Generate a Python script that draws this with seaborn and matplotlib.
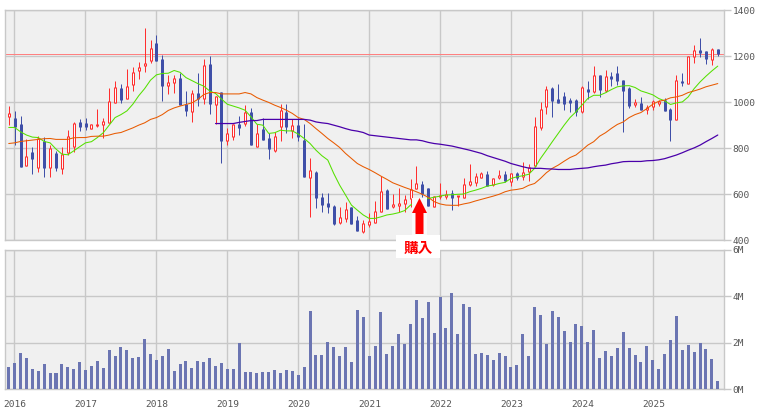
import matplotlib
matplotlib.use("Agg")
import matplotlib.pyplot as plt
import numpy as np
import pandas as pd
import seaborn as sns
from matplotlib.patches import Rectangle, Polygon

# monthly candles, Dec 2015 - Dec 2025
opens = [936,933,904,723,783,712,829,714,778,707,780,806,913,909,884,900,899,910,997,1061,1014,1074,1136,1158,1180,1257,1187,1071,1084,1104,994,958,1042,1012,1165,988,
         1045,832,849,904,904,957,803,885,842,787,893,958,875,900,835,672,697,586,559,548,472,493,542,487,435,465,475,523,617,542,549,557,580,622,642,625,545,586,588,603,588,581,639,649,
         672,687,639,671,687,654,691,675,697,722,886,977,1061,1013,1025,1009,1009,957,1059,1043,1117,1048,1113,1126,1096,1061,988,996,964,977,994,1009,970,922,1091,1081,1197,1226,1222,1184,1230]
closes = [951,893,719,765,752,843,714,799,714,774,852,909,891,891,903,904,920,1003,1064,1009,1072,1133,1151,1172,1238,1180,1070,1090,1106,986,962,1042,1013,1164,991,1025,
          832,864,904,887,957,813,864,835,794,852,965,893,900,849,675,704,584,552,542,468,499,533,471,441,472,483,526,613,535,555,559,577,623,646,600,548,591,596,600,584,591,642,655,678,
          690,636,668,681,657,691,671,694,719,896,972,1059,1004,997,991,997,957,1064,1043,1120,1052,1112,1100,1091,1049,983,999,965,977,1003,1003,962,922,1096,1088,1199,1226,1214,1187,1230,1209]
highs = [983,961,939,838,804,852,848,813,787,804,878,913,926,930,903,970,930,1061,1091,1078,1146,1152,1174,1322,1270,1291,1204,1117,1117,1125,1048,1052,1125,1190,1200,1029,
         1045,886,904,939,986,974,907,929,864,871,991,991,925,929,907,759,700,603,603,552,542,565,542,506,487,516,570,678,622,600,626,596,665,722,657,625,591,646,617,617,591,668,733,690,
         697,700,672,704,700,691,696,738,730,935,1000,1070,1064,1078,1043,1020,1013,1070,1091,1157,1120,1139,1132,1157,1096,1064,1016,1022,987,1009,1009,1020,974,1117,1126,1199,1248,1278,1222,1235,1230]
lows = [901,813,719,723,687,697,675,675,701,688,770,783,874,878,884,891,843,910,997,996,1014,1048,1100,1132,1171,1180,1004,1035,1041,986,939,913,983,991,948,907,
        736,813,835,857,896,813,803,835,752,784,832,864,842,832,675,501,541,523,516,465,470,480,471,441,432,458,475,523,535,538,523,520,545,622,588,548,545,577,577,530,549,581,635,635,
        668,635,635,664,654,636,661,661,657,722,880,948,935,997,965,957,939,954,1013,1039,1023,1043,1070,1074,870,974,977,965,948,964,983,962,830,922,1070,1081,1170,1197,1165,1161,1201]

ma_short = [890,890,871,857,848,846,829,823,796,774,771,788,806,823,828,846,867,900,933,946,962,991,1028,1059,1096,1119,1125,1126,1138,1130,1107,1094,1081,1070,1049,1038,
            1014,991,983,975,965,936,904,900,864,867,878,875,875,861,842,820,791,767,748,690,639,596,552,530,509,494,494,501,509,513,519,528,552,567,577,581,586,591,596,597,599,600,610,617,
            625,635,639,646,651,668,675,680,686,712,755,791,828,864,900,933,958,987,1016,1030,1030,1041,1055,1067,1071,1072,1064,1049,1041,1032,1016,1006,990,997,1001,1023,1059,1088,1113,1136,1157]
ma_mid = [820,823,829,832,835,838,841,842,838,838,838,845,846,846,851,852,852,857,864,868,878,888,900,910,925,933,946,964,975,983,990,997,1012,1033,1042,1042,
          1036,1036,1036,1036,1042,1036,1020,1009,999,987,977,965,951,933,925,907,885,864,842,823,803,777,755,733,719,707,693,678,664,649,639,629,620,610,599,586,567,557,552,551,551,557,562,570,
          577,584,591,599,610,617,620,625,638,646,668,693,712,726,743,759,770,791,813,828,852,867,886,903,914,933,946,955,972,991,1004,1009,1019,1023,1030,1042,1049,1057,1067,1074,1081]
ma_long = [907,907,907,907,912,916,920,920,925,925,925,925,925,925,925,925,922,914,910,907,900,893,885,878,874,868,857,854,851,848,845,842,839,836,836,832,825,820,817,813,809,803,797,791,784,
           777,767,759,751,743,733,726,719,713,712,712,710,709,707,707,707,710,712,714,719,723,726,732,736,741,742,742,742,745,746,749,754,762,770,780,791,801,813,828,842,857]

volume = [0.96,1.13,1.56,1.34,0.87,0.79,1.09,0.70,0.70,1.09,0.96,0.87,1.17,0.83,1.00,1.21,0.91,1.69,1.43,1.81,1.69,1.34,1.39,2.16,1.51,1.26,1.43,1.73,0.79,1.09,1.21,0.91,1.21,1.17,1.34,1.00,
          1.13,0.87,0.87,1.99,0.74,0.74,0.70,0.74,0.74,0.83,0.70,0.83,0.79,0.61,0.96,3.36,1.47,1.47,2.03,1.81,1.43,1.81,1.17,3.40,3.10,1.43,1.86,3.31,1.51,1.86,2.37,1.94,2.80,3.83,3.06,3.74,
          2.41,3.96,2.63,4.13,2.37,3.66,3.53,1.51,1.56,1.47,1.26,1.56,1.43,0.96,1.04,2.37,1.43,3.53,3.19,1.94,3.36,3.10,2.50,2.03,2.80,2.71,2.03,2.54,1.34,1.64,1.43,1.77,2.46,1.77,1.47,1.17,
          1.86,1.26,0.87,1.51,2.11,3.14,1.69,1.90,1.60,1.99,1.73,1.30,0.36]

years = ["2016","2017","2018","2019","2020","2021","2022","2023","2024","2025"]
price_ticks = [400,600,800,1000,1200,1400]
volume_ticks = [0,2,4,6]
resistance = 1211

RED = "#ff2f2f"
BLUE = "#3f4fa8"
GRID = "#c8c8c8"
TXT = "#555555"

sns.set_style("white")
plt.rcParams["font.family"] = ["DejaVu Sans Mono"]

W, H = 758, 408
fig = plt.figure(figsize=(W/100, H/100), dpi=100, facecolor="white")
def box(l, t, r, b):
    return [l/W, 1-b/H, (r-l)/W, (b-t)/H]
ax = fig.add_axes(box(5.3, 10.3, 723.5, 240))
axv = fig.add_axes(box(5.3, 249.5, 723.5, 389.3))

n = len(opens)
idx = np.arange(n)
xlim = (-0.58, 120.97)
year_pos = [0.95 + 12.017*k for k in range(len(years))]

PT = 0.72           # one pixel in points
UNIT = 1/0.23       # one pixel in price units

# candles: wick, then a 3 px body; rising months get a hollow centre
o, c = np.array(opens, float), np.array(closes, float)
up = c >= o
top, bot = np.maximum(o, c), np.minimum(o, c)
flat = top - bot < 2*UNIT
top = np.where(flat, (top+bot)/2 + UNIT, top)
bot = np.where(flat, top - 2*UNIT, bot)
colours = np.where(up, RED, BLUE)
ax.vlines(idx, lows, highs, colors=colours, lw=PT, zorder=3)
ax.vlines(idx, bot, top, colors=colours, lw=3*PT, zorder=4)
ax.vlines(idx[up], (bot+UNIT)[up], (top-UNIT)[up], colors="#fbfbfb", lw=PT, zorder=4.5)

ax.axhline(resistance, color="#ff8080", lw=PT, zorder=2)
sns.lineplot(x=idx[:len(ma_short)], y=ma_short, ax=ax, color="#55e000", lw=0.75, zorder=5, errorbar=None)
sns.lineplot(x=idx[:len(ma_mid)], y=ma_mid, ax=ax, color="#e85a00", lw=0.75, zorder=5, errorbar=None)
sns.lineplot(x=idx[35:35+len(ma_long)], y=ma_long, ax=ax, color="#4a00aa", lw=0.9, zorder=5, errorbar=None)

dfv = pd.DataFrame({"i": idx, "v": volume})
sns.barplot(data=dfv, x="i", y="v", ax=axv, native_scale=True, color="#6b75b2", saturation=1,
            width=0.51, zorder=3, edgecolor="none", linewidth=0, antialiased=False)

for a, ymin, ymax, ticks, labels in [
    (ax, 400, 1400, price_ticks, [str(t) for t in price_ticks]),
    (axv, 0, 6, volume_ticks, [f"{t}M" for t in volume_ticks]),
]:
    a.set_xlim(*xlim)
    a.set_ylim(ymin, ymax)
    a.set_facecolor("#f0f0f0")
    a.set_axisbelow(True)
    a.grid(True, color=GRID, lw=1.0, zorder=0)
    a.set_xticks(year_pos)
    a.set_yticks(ticks)
    a.set_yticklabels(labels)
    a.yaxis.tick_right()
    a.tick_params(axis="y", length=5, width=1, color=GRID, labelcolor=TXT, labelsize=6.8, pad=1.5)
    a.set_xlabel("")
    a.set_ylabel("")
    for s in a.spines.values():
        s.set_color(GRID)
        s.set_linewidth(1.0)
ax.tick_params(axis="x", length=0, labelbottom=False)
axv.set_xticklabels(years)
axv.tick_params(axis="x", length=5, width=1, color=GRID, labelcolor=TXT, labelsize=6.8, pad=3)

# buy marker: white backing, red arrow, label
def px(x, y):
    return (x/W, 1-y/H)
tr = fig.transFigure
fig.add_artist(Rectangle(px(412, 235), 15/W, 37/H, transform=tr, facecolor="#fafafa", edgecolor="none", zorder=10))
arrow = [(419.5, 198), (427, 213), (423.5, 213), (423.5, 234), (415.5, 234), (415.5, 213), (412, 213)]
fig.add_artist(Polygon([px(*p) for p in arrow], closed=True, transform=tr, facecolor="#ff0000", edgecolor="none", zorder=11))
fig.add_artist(Rectangle(px(396, 258), 44/W, 23/H, transform=tr, facecolor="white", edgecolor="none", zorder=10))
fig.text(418/W, 1-247.5/H, "購入", color="#ff0000", fontsize=10.5, fontweight="bold",
         family=["Noto Sans CJK JP", "DejaVu Sans"], ha="center", va="center", zorder=12)

fig.savefig("out.png", dpi=100, facecolor="white")
